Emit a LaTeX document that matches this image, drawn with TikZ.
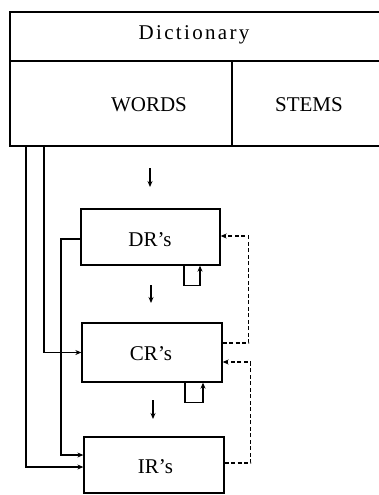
\documentclass[tikz,border=0pt]{standalone}
\usepackage{fontspec}
\setmainfont{Liberation Serif}
\usetikzlibrary{arrows.meta}
\tikzset{
  box/.style={draw, line width=1.3pt, rectangle, inner sep=0pt},
  lbl/.style={anchor=base, inner sep=0pt, font=\fontsize{21}{24}\selectfont},
  conn/.style={line width=1.2pt},
  arr/.style={conn, -{Stealth[length=6pt,width=5pt]}},
  dsh/.style={arr, dash pattern=on 4pt off 2.5pt},
}
\begin{document}
\begin{tikzpicture}[x=1pt,y=-1pt]
\useasboundingbox (0,0) rectangle (379,495);
\clip (0,0) rectangle (379,495);
% dictionary block
\node[box, minimum width=385pt, minimum height=49pt] (dict) at (202.5,36.5) {};
\node[box, minimum width=222pt, minimum height=85pt] (words) at (121,103.5) {};
\node[box, minimum width=163pt, minimum height=85pt] (stems) at (313.5,103.5) {};
\node[lbl] (tdict) at (194,40) {\addfontfeature{LetterSpace=11}Dictionary};
\node[lbl] (twords) at (149,111.5) {WORDS};
\node[lbl] (tstems) at (309,111) {STEMS};
% rule boxes
\node[box, minimum width=139pt, minimum height=56pt] (dr) at (150.5,237) {};
\node[box, minimum width=140pt, minimum height=59pt] (cr) at (152,352.5) {};
\node[box, minimum width=140pt, minimum height=56pt] (ir) at (154,465) {};
\node[lbl] (tdr) at (150,246) {DR’s};
\node[lbl] (tcr) at (151,360.5) {CR’s};
\node[lbl] (tir) at (155.5,473) {IR’s};
% free arrow ends
\coordinate (a1s) at (150,168); \coordinate (a1e) at (150,187);
\coordinate (a2s) at (151,285); \coordinate (a2e) at (151,303);
\coordinate (a3s) at (153,400); \coordinate (a3e) at (153,419);
\draw[arr] (a1s) -- (a1e);
\draw[arr] (a2s) -- (a2e);
\draw[arr] (a3s) -- (a3e);
% connectors from WORDS
\coordinate (w1) at (26,146);
\coordinate (w2) at (44,146);
\draw[arr] (w1) |- ([yshift=-2pt]ir.west);
\draw[arr] (w2) |- (cr.west);
% DR to IR
\coordinate (drl) at (81,239);
\draw[arr] (drl) -| (61,400) |- ([yshift=10pt]ir.west);
% self loops
\draw[arr] ([xshift=33.5pt]dr.south) -- ++(0,20) -- ++(16,0) -- ++(0,-20);
\draw[arr] ([xshift=33pt]cr.south) -- ++(0,20) -- ++(18,0) -- ++(0,-20);
% dashed feedback
\draw[dsh] ([yshift=9.5pt]cr.east) -- ++(26,0) |- ([yshift=1pt]dr.east);
\draw[dsh] ([yshift=2pt]ir.east) -- ++(26,0) |- ([yshift=-9.5pt]cr.east);
\end{tikzpicture}
\end{document}
